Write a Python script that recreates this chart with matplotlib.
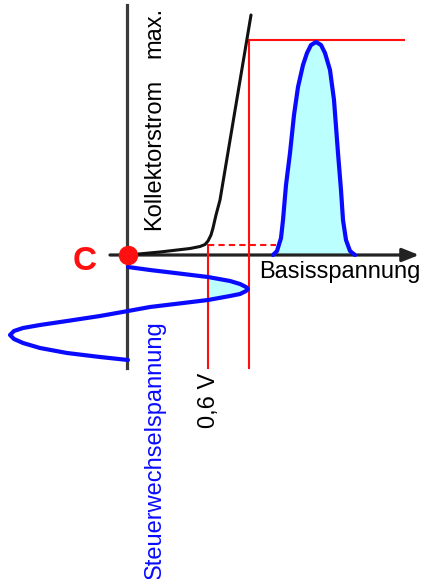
import numpy as np
import matplotlib
matplotlib.use("Agg")
import matplotlib.pyplot as plt

plt.rcParams['font.family'] = ['Liberation Sans', 'DejaVu Sans']

# diagram coordinates are in picture pixels (y grows downwards)
origin = (128, 255)
threshold_x = 208      # 0,6 V
peak_x = 249           # max. Basisspannung
peak_y = 40            # max. Kollektorstrom
knee_y = 245

# transistor characteristic (black)
kennlinie_x = [128, 160, 190, 200, 205, 208, 211, 213, 216, 220, 251]
kennlinie_y = [255, 252, 248.5, 246.5, 244.5, 241, 235, 228, 215, 200, 15]

# input sine (control voltage, drawn downwards)
sine_x = [128, 150, 175, 208, 230, 240, 246, 248, 246, 240, 230, 208, 175, 150,
          128, 100, 67, 40, 23, 14, 10, 14, 23, 40, 67, 100, 128]
sine_y = [267, 270, 273, 277, 281, 284, 287, 289, 291, 294, 296, 300, 304, 307,
          311, 316, 321, 325, 328, 331, 335, 339, 343, 348, 353, 357, 360]

# output pulse (collector current)
pulse_x = [273, 277, 281, 283, 286, 290, 294, 298, 303, 307, 311, 316,
           321, 325, 330, 334, 338, 341, 343, 346, 350, 355]
pulse_y = [255, 251, 238, 220, 185, 153, 115, 87, 65, 53, 45, 42,
           45, 53, 70, 100, 153, 190, 220, 240, 251, 255]

blue = '#0a0aff'
cyan = '#bcffff'
red = '#ff1010'

fig = plt.figure(figsize=(4.24, 5.79), dpi=100)
ax = fig.add_axes([0, 0, 1, 1])
ax.set_xlim(0, 424)
ax.set_ylim(579, 0)
ax.axis('off')

# fills
sx = np.array(sine_x)
sy = np.array(sine_y)
ax.fill_betweenx(sy, threshold_x, sx, where=sx >= threshold_x, interpolate=True,
                 color=cyan, lw=0, zorder=1)
ax.fill_between(pulse_x, pulse_y, origin[1], color=cyan, lw=0, zorder=1)

# axes
ax.plot([127, 127], [5, 368], color='#3a3a3a', lw=2.3, zorder=2)
ax.annotate('', xy=(419, 255), xytext=(110, 255),
            arrowprops=dict(arrowstyle='-|>,head_length=1.0,head_width=0.4',
                            color='#222222', lw=2.3, shrinkA=0, shrinkB=0),
            zorder=2)

# red guides
ax.plot([threshold_x, threshold_x], [knee_y, 368], color=red, lw=1.5, zorder=3)
ax.plot([peak_x, peak_x], [peak_y, 368], color=red, lw=1.5, zorder=3)
ax.plot([peak_x, 404], [peak_y, peak_y], color=red, lw=1.5, zorder=3)
ax.plot([threshold_x, 276], [knee_y, knee_y], color=red, lw=1.5,
        dashes=(3, 2), zorder=3)

# curves
ax.plot(kennlinie_x, kennlinie_y, color='#111111', lw=2.2,
        solid_capstyle='round', solid_joinstyle='round', zorder=4)
ax.plot(sine_x, sine_y, color=blue, lw=3,
        solid_capstyle='round', solid_joinstyle='round', zorder=4)
ax.plot(pulse_x, pulse_y, color=blue, lw=3,
        solid_capstyle='round', solid_joinstyle='round', zorder=4)

ax.plot(*origin, 'o', color=red, markersize=13, zorder=5)

# labels
ax.text(85, 261, 'C', color=red, fontsize=24, fontweight='bold',
        ha='center', va='center')
ax.text(154, 230, 'Kollektorstrom', rotation=90, fontsize=17,
        ha='center', va='bottom')
ax.text(154, 58, 'max.', rotation=90, fontsize=17, ha='center', va='bottom')
ax.text(340, 272, 'Basisspannung', fontsize=17, ha='center', va='center')
ax.text(155, 579, 'Steuerwechselspannung', rotation=90, fontsize=17,
        color=blue, ha='center', va='bottom')
ax.text(209, 428, '0,6 V', rotation=90, fontsize=17, ha='center', va='bottom')

fig.savefig('out.png', dpi=100)
